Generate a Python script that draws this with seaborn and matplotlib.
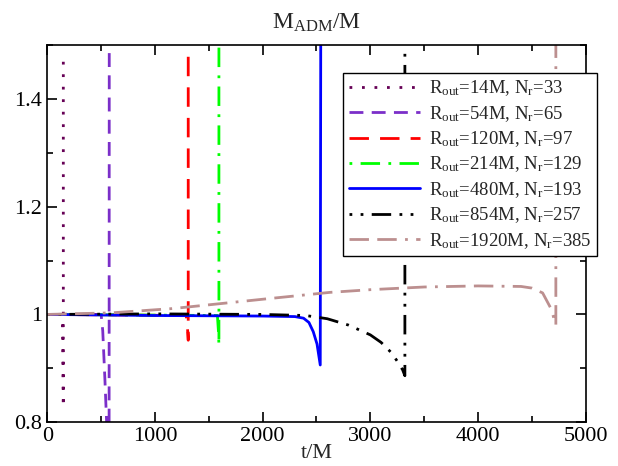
import seaborn as sns
import matplotlib.pyplot as plt
import pandas as pd

# M_ADM/M against t/M for each outer radius / resolution
t_14 = [0, 140, 149, 149]
m_14 = [1.0, 1.0, 0.828, 1.477]

t_54 = [0, 500, 515, 535, 555, 570, 574, 576]
m_54 = [1.0, 1.0, 0.97, 0.88, 0.78, 0.70, 0.70, 1.7]

t_120 = [0, 1290, 1302, 1309, 1309]
m_120 = [1.0, 0.998, 0.975, 0.952, 1.49]

t_214 = [0, 1580, 1589, 1594, 1594]
m_214 = [1.0, 0.998, 0.97, 0.943, 1.7]

t_480 = [0, 1000, 2000, 2300, 2380, 2430, 2470, 2505, 2535, 2541]
m_480 = [1.0, 0.998, 0.997, 0.996, 0.993, 0.985, 0.968, 0.945, 0.906, 1.7]

t_854 = [0, 1000, 2000, 2400, 2600, 2800, 3000, 3100, 3200, 3260, 3300, 3321, 3321]
m_854 = [1.0, 1.001, 1.0, 0.998, 0.992, 0.98, 0.962, 0.948, 0.928, 0.91, 0.897, 0.886, 1.49]

t_1920 = [0, 600, 1170, 2037, 2625, 3000, 3500, 4000, 4400, 4500, 4600, 4680, 4723, 4723]
m_1920 = [1.0, 1.003, 1.011, 1.029, 1.041, 1.046, 1.051, 1.053, 1.052, 1.049, 1.04, 1.01, 0.98, 1.7]

labels = [
    r"R$_{\mathrm{out}}$=14M, N$_{\mathrm{r}}$=33",
    r"R$_{\mathrm{out}}$=54M, N$_{\mathrm{r}}$=65",
    r"R$_{\mathrm{out}}$=120M, N$_{\mathrm{r}}$=97",
    r"R$_{\mathrm{out}}$=214M, N$_{\mathrm{r}}$=129",
    r"R$_{\mathrm{out}}$=480M, N$_{\mathrm{r}}$=193",
    r"R$_{\mathrm{out}}$=854M, N$_{\mathrm{r}}$=257",
    r"R$_{\mathrm{out}}$=1920M, N$_{\mathrm{r}}$=385",
]
series = [(t_14, m_14), (t_54, m_54), (t_120, m_120), (t_214, m_214),
          (t_480, m_480), (t_854, m_854), (t_1920, m_1920)]

colors = ["#660055", "#7b2fc9", "#ff0000", "#00ff00", "#0000ff", "#000000", "#bc8f8f"]
styles = [(0, (1, 3.5)), (0, (5, 3)), (0, (7, 4)), (0, (1, 3, 7, 3)), "-",
          (0, (1, 3, 1, 3, 7, 3)), (0, (7, 3, 7, 3, 1, 3))]

sns.set_style("ticks")
plt.rcParams["font.family"] = ["Liberation Serif", "DejaVu Serif"]
plt.rcParams["mathtext.fontset"] = "custom"
plt.rcParams["mathtext.rm"] = "Liberation Serif"
plt.rcParams["mathtext.it"] = "Liberation Serif:italic"

fig = plt.figure(figsize=(6.18, 4.66), dpi=100)
ax = fig.add_axes([0.0765, 0.0944, 0.8712, 0.808])

for (t, m), lab, c, ls in zip(series, labels, colors, styles):
    df = pd.DataFrame({"t": t, "m": m})
    sns.lineplot(data=df, x="t", y="m", sort=False, estimator=None, ax=ax,
                 color=c, linestyle=ls, linewidth=2, label=lab)

ax.set_xlim(0, 5000)
ax.set_ylim(0.8, 1.5)
ax.set_xticks([0, 1000, 2000, 3000, 4000, 5000])
ax.set_xticks([500, 1500, 2500, 3500, 4500], minor=True)
ax.set_yticks([0.8, 1.0, 1.2, 1.4])
ax.set_yticklabels(["0.8", "1", "1.2", "1.4"])
ax.set_yticks([0.9, 1.1, 1.3, 1.5], minor=True)
ax.tick_params(which="both", direction="in", top=True, right=True,
               labelsize=16, width=1.2, colors="black")
ax.tick_params(which="major", length=7)
ax.tick_params(which="minor", length=4)
for s in ax.spines.values():
    s.set_linewidth(1.2)
    s.set_color("black")

ax.set_xlabel("t/M", fontsize=16, labelpad=-1)
ax.set_ylabel("")
ax.set_title(r"M$_{\mathrm{ADM}}$/M", fontsize=17, pad=12)

leg = ax.legend(loc="upper left", bbox_to_anchor=(0.555, 0.844),
                bbox_transform=fig.transFigure, fontsize=13.5, frameon=True,
                fancybox=False, framealpha=1, edgecolor="black",
                handlelength=3.8, handletextpad=0.5, labelspacing=0.3,
                borderpad=0.3, borderaxespad=0)
leg.get_frame().set_linewidth(1.0)

fig.savefig("out.png", dpi=100)
